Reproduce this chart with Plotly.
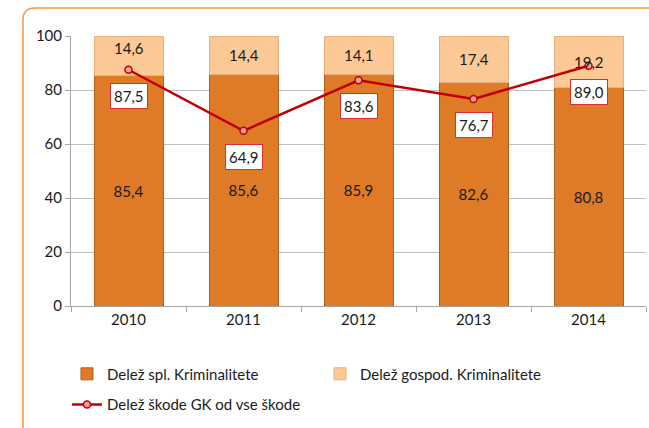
import plotly.graph_objects as go

years = ["2010", "2011", "2012", "2013", "2014"]
spl = [85.4, 85.6, 85.9, 82.6, 80.8]
gospod = [14.6, 14.4, 14.1, 17.4, 19.2]
skoda = [87.5, 64.9, 83.6, 76.7, 89.0]

def fmt(v):
    return f"{v:.1f}".replace(".", ",")

FONT = "Lato, 'Open Sans', sans-serif"
TXT = "#1a1a1a"

fig = go.Figure()
fig.add_trace(go.Bar(
    x=years, y=spl, name="Delež spl. Kriminalitete",
    marker=dict(color="#DF7A27", line=dict(color="#B05E1C", width=1)),
    text=[fmt(v) for v in spl], textposition="inside", insidetextanchor="middle",
    textfont=dict(family=FONT, size=15, color=TXT), width=0.6, legend="legend",
))
fig.add_trace(go.Bar(
    x=years, y=gospod, name="Delež gospod. Kriminalitete",
    marker=dict(color="#FCC896", line=dict(color="#E8B07E", width=1)),
    width=0.6, legend="legend",
))
fig.add_trace(go.Scatter(
    x=years, y=skoda, name="Delež škode GK od vse škode", mode="lines+markers",
    line=dict(color="#C00000", width=2.5),
    marker=dict(size=7, color="#F0A39B", line=dict(color="#C00000", width=1.5)),
    legend="legend2",
))

# labels of the light segments (first one nudged up as in the source chart)
for i, (s, g) in enumerate(zip(spl, gospod)):
    fig.add_annotation(
        x=i, y=s + g / 2, xref="x", yref="y", text=fmt(g), showarrow=False,
        yshift=8 if i == 0 else 0,
        font=dict(family=FONT, size=15, color=TXT),
    )

for i, v in enumerate(skoda):
    fig.add_annotation(
        x=i, y=v, xref="x", yref="y", text=fmt(v), showarrow=False, yshift=-26,
        bgcolor="white", bordercolor="#D83030", borderwidth=1, borderpad=3,
        font=dict(family=FONT, size=15, color=TXT),
    )

# decorative rounded frame (top-left corner visible)
x0, y0 = -0.0835, 1.1037
rx, ry = 0.021, 0.0444
fig.add_shape(
    type="path", xref="paper", yref="paper",
    path=f"M {x0},-0.6 L {x0},{y0-ry} Q {x0},{y0} {x0+rx},{y0} L 1.1,{y0}",
    line=dict(color="#F79646", width=1.5),
)

fig.update_layout(
    width=649, height=428,
    margin=dict(l=71, r=3, t=36, b=122, autoexpand=False),
    barmode="stack", bargap=0.4,
    plot_bgcolor="white", paper_bgcolor="white",
    font=dict(family=FONT, size=15, color=TXT),
    showlegend=True,
    legend=dict(
        orientation="h", x=-0.007, y=-0.191, xanchor="left", yanchor="top",
        entrywidth=208, entrywidthmode="pixels", traceorder="normal",
        font=dict(family=FONT, size=15, color=TXT), itemwidth=30,
    ),
    legend2=dict(
        orientation="h", x=-0.007, y=-0.305, xanchor="left", yanchor="top",
        font=dict(family=FONT, size=15, color=TXT), itemwidth=30,
    ),
)
fig.update_xaxes(
    type="category", range=[-0.5, 4.5], autorange=False,
    showgrid=False, showline=True, linecolor="#A6A6A6",
    ticks="outside", tickson="boundaries", ticklen=5, tickcolor="#A6A6A6",
    tickfont=dict(family=FONT, size=15, color=TXT), tickangle=0,
)
fig.update_yaxes(
    range=[0, 100], dtick=20, showgrid=True, gridcolor="#BFBFBF", gridwidth=1,
    showline=True, linecolor="#A6A6A6", ticks="outside", ticklen=5, tickcolor="#A6A6A6",
    tickfont=dict(family=FONT, size=15, color=TXT), zeroline=False,
)

fig.write_html("out.html", config={"displayModeBar": False},
               post_script="document.body.style.margin='0';")
